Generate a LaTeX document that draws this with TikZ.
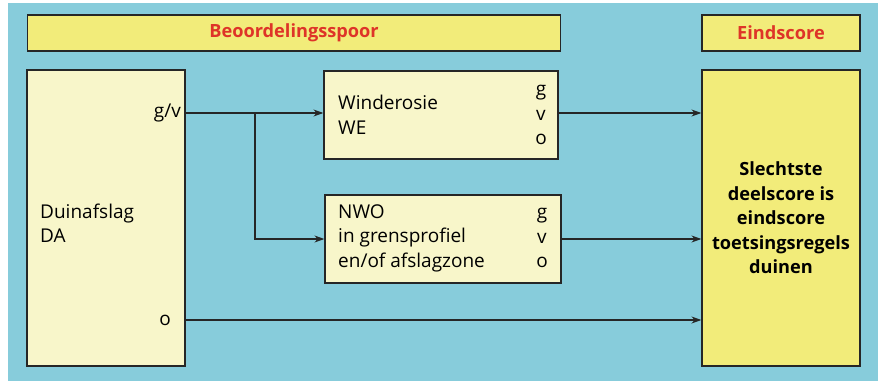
\documentclass[tikz,border=0pt]{standalone}
\usepackage{fontspec}
\setmainfont{Open Sans}
\usepackage{xcolor}
\definecolor{bgBlue}{RGB}{135,204,219}
\definecolor{hdrYellow}{RGB}{242,236,122}
\definecolor{paleYellow}{RGB}{248,246,202}
\definecolor{hdrRed}{RGB}{222,52,40}
\usepackage{tikz}
\usetikzlibrary{arrows.meta,positioning,calc}
\newcommand{\diagfont}{\fontsize{19pt}{24.5pt}\selectfont}
\newcommand{\kopfont}{\fontsize{18.2pt}{24.5pt}\selectfont\bfseries}
\tikzstyle{header}=[rectangle, draw=black!85, fill=hdrYellow, line width=1.2pt, minimum height=36pt, inner sep=0pt, font=\kopfont, text=hdrRed]
\tikzstyle{kader}=[rectangle, draw=black!85, fill=paleYellow, line width=1.2pt, inner sep=0pt]
\tikzstyle{tekst}=[align=left, inner sep=0pt, font=\diagfont]
\tikzstyle{flow}=[-{Stealth[length=10pt,width=7pt]}, line width=1.2pt, color=black!85]

\begin{document}
\begin{tikzpicture}[x=1pt, y=-1pt, font=\diagfont]
        \useasboundingbox (0,0) rectangle (878,381);
        \fill[bgBlue] (8,3) rectangle (878,381);

        % Kopjes
        \node[header, minimum width=533pt] (spoor) at (294,33) {Beoordelingsspoor};
        \node[header, minimum width=158pt] (eindkop) at (781,33) {Eindscore};

        % Duinafslag
        \node[kader, minimum width=158pt, minimum height=296pt] (da) at (106,218) {};
        \node[tekst, anchor=west] (datekst) at (40,223) {Duinafslag\\DA};
        \node[tekst, anchor=east] (gv) at (181,113) {g/v};
        \node[tekst, anchor=east] (o) at (171,320) {o};

        % Winderosie en NWO
        \node[kader, minimum width=234pt, minimum height=88pt] (we) at (441,115) {};
        \node[tekst, anchor=west] (wetekst) at (338,115) {Winderosie\\WE};
        \node[tekst, align=center] (wescore) at (541,115) {g\\v\\o};
        \node[kader, minimum width=236pt, minimum height=88pt] (nwo) at (443,239) {};
        \node[tekst, anchor=west] (nwotekst) at (338,238) {NWO\\in grensprofiel\\en/of afslagzone};
        \node[tekst, align=center] (nwoscore) at (542,238) {g\\v\\o};

        % Eindscore
        \node[kader, fill=hdrYellow, minimum width=158pt, minimum height=296pt,
              align=center, font=\kopfont] (eind) at (781,218)
              {Slechtste\\deelscore is\\eindscore\\toetsingsregels\\duinen};

        % Pijlen
        \coordinate (split) at (255,113);
        \draw[flow] (da.east |- gv) -- (we.west |- gv);
        \draw[flow] (split) |- (nwo.west);
        \draw[flow] (we.east |- gv) -- (eind.west |- gv);
        \draw[flow] (nwo.east) -- (eind.west |- nwo.east);
        \draw[flow] (da.east |- o) -- (eind.west |- o);
      \end{tikzpicture}
\end{document}
